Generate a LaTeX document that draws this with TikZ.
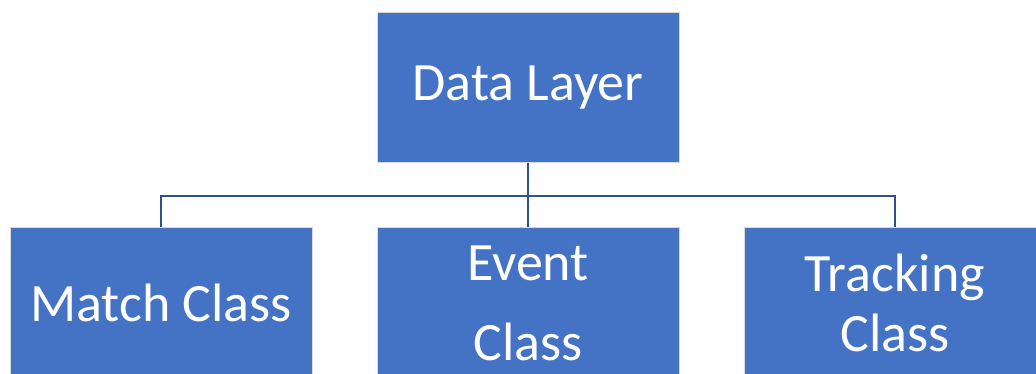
\documentclass[tikz,border=0pt]{standalone}
\usepackage{fontspec}
\setmainfont{Carlito}
\definecolor{boxblue}{HTML}{4472C4}
\definecolor{linkblue}{HTML}{2F528F}
\definecolor{edgegray}{HTML}{D9D9D9}
\begin{document}
\begin{tikzpicture}[x=1pt,y=-1pt,
  box/.style={rectangle, fill=boxblue, draw=edgegray, line width=1pt,
    minimum width=302pt, minimum height=150pt, inner sep=0pt,
    text=white, align=center, font=\fontsize{54}{60}\selectfont},
  link/.style={draw=linkblue, line width=2pt}]
\useasboundingbox (0,0) rectangle (1036,374);
\clip (0,0) rectangle (1036,374);
\node[box] (top) at (528,88) {Data Layer};
\node[box] (match) at (161,303) {Match Class};
\node[box] (event) at (528,303) {Event\\[20pt]Class};
\node[box] (track) at (895,303) {Tracking\\Class};
\coordinate (j) at (528,196);
\draw[link] (top.south) -- (j);
\draw[link] (j) -| (match.north);
\draw[link] (j) -| (track.north);
\draw[link] (j) -- (event.north);
\end{tikzpicture}
\end{document}
